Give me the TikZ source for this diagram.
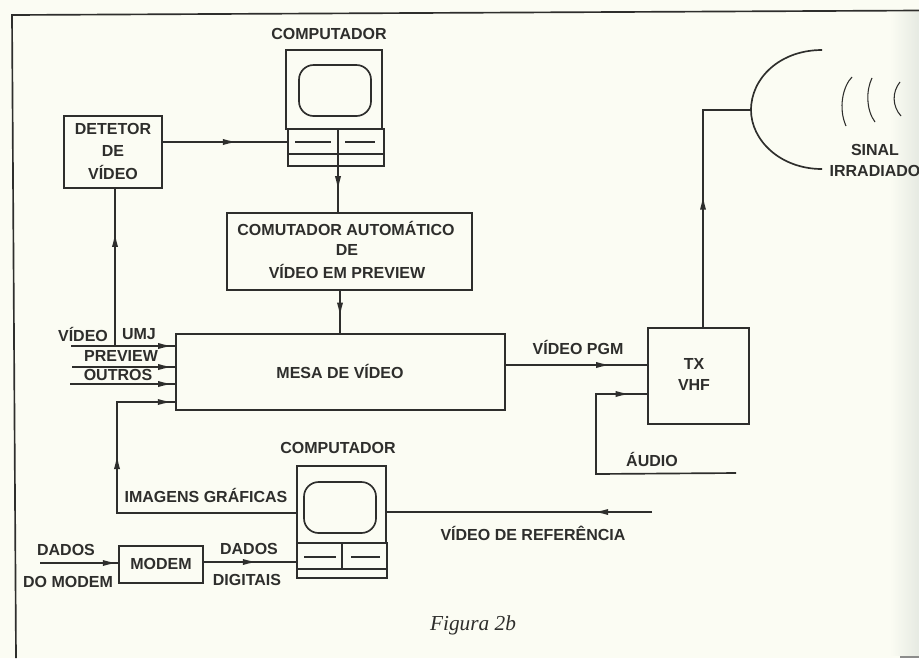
\documentclass[tikz,border=0pt]{standalone}
\usepackage{fontspec}
\setmainfont{Liberation Sans}
\newfontfamily\figfont{Liberation Serif}
\usetikzlibrary{arrows.meta,decorations.markings}
\definecolor{ink}{HTML}{2E2E2C}
\definecolor{paper}{HTML}{FBFCF3}
\definecolor{edgegrey}{HTML}{E6EAE2}
\tikzset{
  x=0.75pt,y=-0.75pt,
  conn/.style={draw=ink,line width=1.25pt},
  thinconn/.style={draw=ink,line width=0.8pt},
  boxn/.style={draw=ink,line width=1.25pt,rectangle,inner sep=0pt,outer sep=0pt,anchor=north west,xshift=0.75pt,yshift=-0.75pt},
  lab/.style={text=ink,font=\bfseries\fontsize{12}{14}\selectfont,inner sep=0pt,anchor=center},
  midarrow/.style={postaction={decorate,decoration={markings,mark=at position #1 with {\arrow{Latex[length=11pt,width=4.6pt]}}}}},
}
\begin{document}
\begin{tikzpicture}
\useasboundingbox (0,0) rectangle (919,658);
\fill[paper] (0,0) rectangle (919,658);
\shade[left color=paper,right color=edgegrey] (890,12) rectangle (919,655);
\fill[ink!55] (900,655.5) rectangle (919,658);
% frame
\draw[conn] (16,658) -- (12,15) -- (919,10.5);
% computer top
\node[lab] (lc1) at (329,34) {COMPUTADOR};
\node[boxn,minimum width=96*0.75pt,minimum height=79*0.75pt] (c1s) at (285,49) {};
\node[boxn,minimum width=96*0.75pt,minimum height=37*0.75pt] (c1k) at (287,128) {};
\node[boxn,rounded corners=11pt,minimum width=72*0.75pt,minimum height=51*0.75pt] (c1r) at (298,64) {};
\coordinate (c1a) at (338,128);
\coordinate (c1b) at (338,154);
\coordinate (c1c) at (287,154);
\coordinate (c1d) at (384,154);
\coordinate (c1e) at (295,142); \coordinate (c1f) at (331,142);
\coordinate (c1g) at (345,142); \coordinate (c1h) at (375,142);
\draw[conn] (c1c) -- (c1d);
\draw[thinconn] (c1e) -- (c1f);
\draw[thinconn] (c1g) -- (c1h);
% detector
\node[boxn,minimum width=98*0.75pt,minimum height=72*0.75pt] (det) at (63,115) {};
\node[lab] (d1) at (113,129) {DETETOR};
\node[lab] (d2) at (113,151) {DE};
\node[lab] (d3) at (113,172) {VÍDEO};
% comutador
\node[boxn,minimum width=245*0.75pt,minimum height=77*0.75pt] (com) at (226,212) {};
\node[lab] (m1) at (346,228) {COMUTADOR AUTOMÁTICO};
\node[lab] (m2) at (347,250) {DE};
\node[lab] (m3) at (347,271) {VÍDEO EM PREVIEW};
% mesa
\node[boxn,minimum width=329*0.75pt,minimum height=76*0.75pt] (mesa) at (175,333) {};
\node[lab] (ml) at (340,371) {MESA DE VÍDEO};
% TX
\node[boxn,minimum width=101*0.75pt,minimum height=96*0.75pt] (tx) at (647,327) {};
\node[lab] (t1) at (694,364) {TX};
\node[lab] (t2) at (694,385) {VHF};
% computer bottom
\node[lab] (lc2) at (338,448) {COMPUTADOR};
\node[boxn,minimum width=89*0.75pt,minimum height=77*0.75pt] (c2s) at (296,465) {};
\node[boxn,minimum width=90*0.75pt,minimum height=35*0.75pt] (c2k) at (296,542) {};
\node[boxn,rounded corners=11pt,minimum width=72*0.75pt,minimum height=51*0.75pt] (c2r) at (303,481) {};
\coordinate (c2a) at (342,542); \coordinate (c2b) at (342,569);
\coordinate (c2c) at (296,569); \coordinate (c2d) at (387,569);
\coordinate (c2e) at (304,557); \coordinate (c2f) at (336,557);
\coordinate (c2g) at (351,557); \coordinate (c2h) at (380,557);
\draw[conn] (c2a) -- (c2b);
\draw[conn] (c2c) -- (c2d);
\draw[thinconn] (c2e) -- (c2f);
\draw[thinconn] (c2g) -- (c2h);
% modem
\node[boxn,minimum width=84*0.75pt,minimum height=37*0.75pt] (modem) at (118,545) {};
\node[lab] (mo) at (161,564) {MODEM};
% labels
\node[lab] (v1) at (83,334) {VÍDEO};
\node[lab] (v2) at (139,334) {UMJ};
\node[lab] (v3) at (121,356) {PREVIEW};
\node[lab] (v4) at (118,375) {OUTROS};
\node[lab] (ig) at (206,495) {IMAGENS GRÁFICAS};
\node[lab] (vr) at (533,533) {VÍDEO DE REFERÊNCIA};
\node[lab] (da) at (66,550) {DADOS};
\node[lab] (dm) at (68,582) {DO MODEM};
\node[lab] (db) at (249,549) {DADOS};
\node[lab] (dd) at (247,580) {DIGITAIS};
\node[lab] (pg) at (578,347) {VÍDEO PGM};
\node[lab] (au) at (652,459) {ÁUDIO};
\node[lab] (s1) at (875,150) {SINAL};
\node[lab] (s2) at (875,171) {IRRADIADO};
\node[text=ink,font=\figfont\itshape\fontsize{16}{18}\selectfont,inner sep=0pt] (fig) at (473,625) {Figura 2b};
% port levels and free ends
\coordinate (p1) at (0,142);
\coordinate (p2) at (115,0);
\coordinate (p3) at (0,346); \coordinate (s3) at (71,346);
\coordinate (s4) at (72,367);
\coordinate (s5) at (70,384);
\coordinate (b6) at (117,402);
\coordinate (b7) at (117,513);
\coordinate (p8) at (340,0);
\coordinate (s9) at (40,563);
\coordinate (p10) at (0,562);
\coordinate (p11) at (0,512); \coordinate (e11) at (652,512);
\coordinate (p12) at (0,365);
\coordinate (p13) at (0,394); \coordinate (b13) at (596,394); \coordinate (b14) at (596,474); \coordinate (e14) at (736,473);
\coordinate (p15) at (703,110);
\coordinate (dishT) at (822,50);
\coordinate (dishB) at (822,169);
\coordinate (dishL) at (751,110);
% connectors
\draw[conn,midarrow=0.60] (det.east |- p1) -- (c1k.west |- p1);
\draw[conn,midarrow=0.74] (c1a) -- (c1a |- com.north);
\draw[conn,midarrow=0.62] (p8 |- com.south) -- (p8 |- mesa.north);
\draw[conn,midarrow=0.72] (p2 |- p3) -- (p2 |- det.south);
\draw[conn,midarrow=0.97] (s3) -- (mesa.west |- s3);
\draw[conn,midarrow=0.97] (s4) -- (mesa.west |- s4);
\draw[conn,midarrow=0.97] (s5) -- (mesa.west |- s5);
\draw[conn,midarrow=0.99] (c2s.west |- b7) -- (b7) -- (b6) -- (mesa.west |- b6);
\draw[conn,midarrow=0.82] (c2s.west |- b7) -- (b7) -- (b6);
\draw[conn,midarrow=0.98] (s9) -- (modem.west |- s9);
\draw[conn,midarrow=0.58] (modem.east |- p10) -- (c2k.west |- p10);
\draw[conn,midarrow=0.22] (e11) -- (c2s.east |- p11);
\draw[conn,midarrow=0.74] (mesa.east |- p12) -- (tx.west |- p12);
\draw[conn,midarrow=0.935] (e14) -- (b14) -- (b13) -- (tx.west |- p13);
\draw[conn,midarrow=0.50] (p15 |- tx.north) -- (p15) -- (dishL);
% dish and waves
\draw[conn] (dishT) .. controls (780,50) and (751,78) .. (dishL) .. controls (751,140) and (780,169) .. (dishB);
\draw[thinconn] (852,77) .. controls (843,86) and (838,108) .. (846,126);
\draw[thinconn] (872,78) .. controls (866,90) and (866,110) .. (875,122);
\draw[thinconn] (900,82) .. controls (892,92) and (892,106) .. (901,116);
\end{tikzpicture}
\end{document}
